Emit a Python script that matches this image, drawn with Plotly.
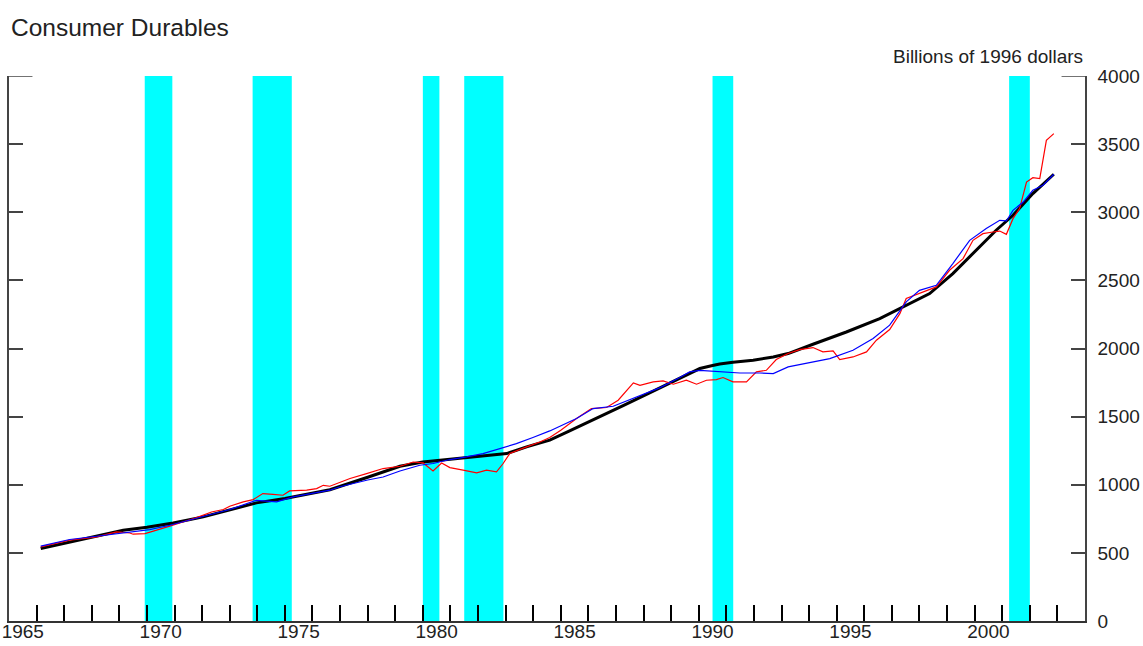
import plotly.graph_objects as go

# Smooth trend (billions of 1996 dollars)
trend_years = [1966.15, 1967.57, 1969.14, 1970.0, 1970.95, 1972.04, 1973.0, 1973.97, 1975.0,
               1975.79, 1976.63, 1978.0, 1979.17, 1980.0, 1980.98, 1981.95, 1983.04, 1983.76,
               1984.6, 1985.3, 1986.3, 1987.26, 1988.2, 1989.08, 1990.04, 1990.5, 1990.76,
               1991.24, 1991.97, 1992.7, 1993.24, 1994.14, 1995.35, 1996.56, 1997.52, 1998.37,
               1999.21, 2000.06, 2000.78, 2001.39, 2002.11, 2002.87]
trend_values = [532, 593, 666, 688, 720, 764, 813, 867, 899,
                928, 963, 1055, 1136, 1167, 1187, 1204, 1229, 1278,
                1327, 1393, 1486, 1580, 1672, 1758, 1853, 1875, 1886,
                1899, 1914, 1938, 1963, 2031, 2121, 2220, 2317, 2403,
                2550, 2721, 2868, 2978, 3137, 3279]

# Actual spending
actual_years = [1966.15, 1967.2, 1968.18, 1968.9, 1969.38, 1969.5, 1969.93, 1970.35, 1970.83,
                1971.3, 1971.8, 1972.34, 1972.77, 1973.0, 1973.49, 1973.85, 1974.2, 1974.57,
                1974.93, 1975.17, 1975.79, 1976.15, 1976.39, 1976.63, 1977.36, 1977.96, 1978.56,
                1979.17, 1979.65, 1980.01, 1980.37, 1980.68, 1980.98, 1981.46, 1981.95, 1982.31,
                1982.67, 1982.91, 1983.15, 1983.76, 1984.24, 1984.6, 1985.0, 1985.57, 1986.11,
                1986.66, 1987.08, 1987.63, 1987.87, 1988.35, 1988.71, 1989.08, 1989.55, 1989.92,
                1990.28, 1990.64, 1990.88, 1991.24, 1991.73, 1992.09, 1992.45, 1992.81, 1993.24,
                1993.66, 1994.14, 1994.5, 1994.87, 1995.11, 1995.59, 1996.08, 1996.44, 1996.92,
                1997.29, 1997.52, 1998.0, 1998.61, 1999.09, 1999.58, 1999.94, 2000.3, 2000.66,
                2000.91, 2001.15, 2001.39, 2001.63, 2001.88, 2002.11, 2002.36, 2002.6, 2002.87]
actual_values = [544, 593, 617, 654, 646, 637, 642, 666, 696,
                 727, 759, 800, 818, 842, 874, 891, 935, 930,
                 923, 955, 960, 972, 996, 989, 1046, 1082, 1119,
                 1136, 1167, 1160, 1101, 1160, 1126, 1107, 1087, 1107,
                 1094, 1156, 1229, 1278, 1314, 1347, 1400, 1486, 1559,
                 1567, 1620, 1747, 1730, 1755, 1762, 1738, 1767, 1738,
                 1767, 1772, 1787, 1755, 1755, 1828, 1840, 1919, 1963,
                 1992, 2007, 1975, 1982, 1919, 1938, 1975, 2061, 2139,
                 2256, 2367, 2403, 2452, 2574, 2660, 2794, 2843, 2855,
                 2862, 2838, 2953, 3027, 3222, 3254, 3247, 3528, 3577]

# Model estimate
model_years = [1966.15, 1967.2, 1968.18, 1969.38, 1970.1, 1970.83, 1971.8, 1973.0, 1973.97,
               1974.7, 1975.3, 1976.63, 1977.0, 1978.0, 1978.56, 1979.17, 1979.89, 1980.37,
               1980.98, 1981.58, 1982.18, 1982.79, 1983.39, 1983.99, 1984.6, 1985.57, 1986.17,
               1986.9, 1987.87, 1988.6, 1989.31, 1989.67, 1990.04, 1990.52, 1991.0, 1991.49,
               1992.21, 1992.7, 1993.24, 1993.9, 1994.75, 1995.59, 1996.32, 1996.92, 1997.52,
               1998.0, 1998.61, 1999.21, 1999.82, 2000.42, 2000.91, 2001.15, 2001.39, 2001.76,
               2002.11, 2002.48, 2002.87]
model_values = [549, 598, 622, 654, 671, 703, 752, 818, 886,
                874, 911, 960, 985, 1035, 1057, 1101, 1143, 1156,
                1185, 1204, 1229, 1266, 1302, 1347, 1395, 1486, 1559,
                1576, 1657, 1713, 1787, 1828, 1840, 1835, 1828, 1820,
                1820, 1816, 1865, 1890, 1926, 1987, 2073, 2171, 2342,
                2427, 2464, 2623, 2794, 2880, 2941, 2936, 3014, 3075,
                3161, 3198, 3279]

# Recession periods (start, end)
recession_starts = [1969.92, 1973.83, 1980.0, 1981.5, 1990.5, 2001.25]
recession_ends = [1970.92, 1975.25, 1980.6, 1982.92, 1991.25, 2002.0]

year_labels = ["1965", "1970", "1975", "1980", "1985", "1990", "1995", "2000"]
label_years = [1965, 1970, 1975, 1980, 1985, 1990, 1995, 2000]

FONT = "Liberation Sans, Arial, sans-serif"
TEXT = "#222222"
AXIS = "#444444"

fig = go.Figure()

fig.add_trace(go.Scatter(x=trend_years, y=trend_values, mode="lines",
                         line=dict(color="black", width=3), hoverinfo="skip"))
fig.add_trace(go.Scatter(x=actual_years, y=actual_values, mode="lines",
                         line=dict(color="#ff0000", width=1.2), hoverinfo="skip"))
fig.add_trace(go.Scatter(x=model_years, y=model_values, mode="lines",
                         line=dict(color="#0000ff", width=1.2), hoverinfo="skip"))

# Recession shading
for s, e in zip(recession_starts, recession_ends):
    fig.add_shape(type="rect", xref="x", yref="y", x0=s, x1=e, y0=0, y1=4000,
                  fillcolor="#00ffff", line=dict(width=0), layer="below")

# Longer tick marks closing the frame at the top of both value axes
fig.add_shape(type="line", xref="x", yref="y", x0=1965, x1=1965.85, y0=4000, y1=4000,
              line=dict(color=AXIS, width=1.5))
fig.add_shape(type="line", xref="x", yref="y", x0=2003.15, x1=2004, y0=4000, y1=4000,
              line=dict(color=AXIS, width=1.5))

fig.update_layout(
    width=1143, height=646,
    margin=dict(l=9, r=58, t=76, b=25),
    paper_bgcolor="white", plot_bgcolor="white",
    showlegend=False,
    font=dict(family=FONT, color=TEXT, size=18),
    xaxis=dict(
        range=[1965, 2004],
        automargin=False,
        showgrid=False, zeroline=False,
        showline=True, linecolor="#333333", linewidth=2,
        tickmode="array",
        tickvals=[y + 0.5 for y in label_years],
        ticktext=year_labels,
        ticks="",
        ticklabelstandoff=-8,
        tickfont=dict(size=19, family=FONT, color=TEXT),
        minor=dict(ticks="inside", tickvals=list(range(1966, 2004)),
                   ticklen=16, tickwidth=2, tickcolor="black", showgrid=False),
    ),
    yaxis=dict(
        range=[0, 4000],
        automargin=False,
        side="right",
        showgrid=False, zeroline=False,
        showline=True, linecolor=AXIS, linewidth=1.5,
        mirror="ticks",
        tickmode="array", tickvals=list(range(0, 4001, 500)),
        ticks="inside", ticklen=14, tickwidth=1.5, tickcolor=AXIS,
        ticklabelstandoff=7,
        tickfont=dict(size=19, family=FONT, color=TEXT),
    ),
    annotations=[
        dict(text="Consumer Durables", xref="paper", yref="paper",
             x=0, y=1 + (76 - 27) / 545, xanchor="left", yanchor="middle",
             showarrow=False, font=dict(size=24.5, family=FONT, color=TEXT)),
        dict(text="Billions of 1996 dollars", xref="paper", yref="paper",
             x=1, y=1 + (76 - 56) / 545, xanchor="right", yanchor="middle",
             showarrow=False, font=dict(size=19, family=FONT, color=TEXT)),
    ],
)

fig.write_html("out.html")
